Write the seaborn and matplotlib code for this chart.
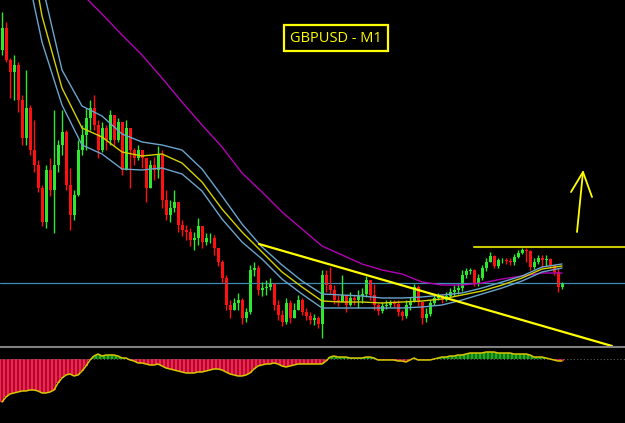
import numpy as np
import matplotlib
matplotlib.use("Agg")
import matplotlib.pyplot as plt
import seaborn as sns

# GBPUSD M1 bars, in points (0.00001) below 1.24600
REF = 1.24600
PT = 0.00001

first_open = 50
close_pts = [28, 60, 72, 65, 100, 138, 108, 150, 165, 188,
             222, 170, 190, 165, 145, 132, 185, 215, 195, 150,
             135, 118, 108, 125, 150, 128, 140, 115, 140, 122,
             170, 128, 150, 158, 150, 158, 188, 165, 170, 155,
             200, 215, 208, 202, 225, 230, 232, 240, 238, 226,
             242, 238, 238, 248, 262, 278, 305, 310, 303, 300,
             318, 312, 270, 268, 290, 288, 287, 283, 305, 315,
             322, 303, 318, 310, 300, 312, 316, 320, 318, 324,
             275, 285, 290, 300, 302, 295, 305, 298, 300, 296,
             294, 280, 295, 305, 311, 306, 305, 303, 304, 312,
             316, 305, 302, 287, 302, 318, 314, 303, 298, 296,
             300, 296, 292, 290, 288, 275, 271, 270, 283, 278,
             268, 262, 256, 266, 260, 260, 261, 262, 257, 253,
             250, 251, 267, 262, 258, 260, 259, 265, 272, 287,
             284]
high_pts = [12, 22, 58, 55, 62, 95, 70, 105, 120, 160,
            185, 165, 158, 110, 140, 110, 130, 168, 190, 140,
            125, 108, 100, 95, 120, 122, 125, 110, 115, 118,
            125, 120, 145, 148, 145, 150, 158, 160, 157, 146,
            150, 190, 200, 190, 205, 220, 225, 228, 232, 218,
            235, 233, 233, 235, 248, 260, 275, 300, 298, 293,
            298, 308, 265, 262, 265, 282, 280, 278, 283, 300,
            310, 298, 300, 303, 295, 298, 308, 312, 314, 316,
            270, 270, 267, 285, 295, 275, 295, 292, 295, 290,
            288, 276, 285, 284, 303, 302, 300, 300, 300, 300,
            310, 300, 297, 284, 285, 305, 308, 300, 295, 293,
            294, 292, 288, 285, 284, 270, 268, 268, 269, 274,
            265, 258, 252, 255, 258, 258, 258, 258, 254, 250,
            248, 248, 250, 258, 255, 255, 255, 258, 265, 268,
            282]
low_pts = [55, 62, 98, 100, 112, 145, 145, 155, 172, 192,
           226, 228, 196, 233, 172, 155, 190, 230, 220, 196,
           155, 150, 130, 130, 158, 152, 150, 145, 145, 142,
           175, 160, 188, 165, 160, 168, 202, 185, 180, 178,
           208, 220, 222, 212, 232, 236, 240, 246, 250, 245,
           248, 245, 243, 255, 266, 283, 310, 318, 310, 310,
           324, 322, 314, 276, 295, 296, 295, 290, 310, 320,
           326, 324, 323, 318, 308, 315, 320, 324, 325, 328,
           338, 292, 294, 304, 306, 300, 312, 306, 305, 308,
           303, 297, 300, 310, 315, 313, 309, 307, 307, 316,
           320, 318, 310, 296, 306, 324, 322, 316, 305, 300,
           303, 301, 297, 296, 294, 291, 278, 274, 286, 286,
           280, 271, 262, 268, 268, 263, 264, 265, 265, 258,
           254, 262, 270, 269, 264, 267, 266, 268, 275, 292,
           289]

# moving averages / envelope, sampled every 5 bars
ma_step = 5
ma_mid = [-200, -97, 16, 88, 128, 137, 152, 156, 154, 163, 182, 209, 232, 252, 272,
          287, 301, 302, 302, 303, 302, 301, 299, 295, 291, 285, 278, 269, 266]
ma_up = [-230, -120, -16, 70, 106, 116, 134, 142, 145, 150, 169, 196, 224, 247, 265,
         281, 294, 295, 296, 298, 298, 297, 295, 293, 288, 282, 276, 267, 264]
ma_lo = [-146, -52, 42, 105, 145, 154, 169, 170, 168, 174, 191, 219, 242, 259, 279,
         294, 308, 308, 308, 308, 308, 307, 305, 300, 294, 288, 281, 272, 268]
ma_slow = [-88, -68, -47, -27, -6, 14, 35, 55, 78, 102, 125, 147, 173, 192, 212,
           229, 246, 255, 264, 270, 274, 282, 285, 285, 283, 279, 276, 273, 273]

# oscillator (sub window)
osc = [-43, -38, -35, -34, -33, -32, -32, -31, -31, -32,
       -34, -34, -33, -31, -24, -19, -16, -15, -17, -16,
       -12, -7, -1, 3, 5, 3, 4, 4, 4, 3,
       1, 1, -1, -2, -4, -4, -5, -6, -6, -5,
       -7, -9, -10, -11, -12, -13, -14, -14, -14, -13,
       -13, -12, -11, -10, -10, -11, -13, -15, -16, -17,
       -17, -16, -14, -10, -7, -6, -5, -5, -4, -5,
       -7, -8, -7, -6, -5, -5, -5, -5, -5, -5,
       -5, -2, 2, 3, 2, 2, 2, 1, 1, 1,
       1, 2, 2, 1, -1, -1, -1, -1, -1, -2,
       -2, -3, -1, 1, -1, -1, -1, -1, 0, 1,
       2, 2, 3, 3, 4, 4, 5, 6, 6, 6,
       6, 7, 7, 7, 6, 6, 6, 6, 5, 5,
       5, 5, 4, 2, 2, 2, 1, 0, -1, -2,
       -2]

# drawn objects (bar index, points)
hline_blue = 283
resist_start, resist_pts = 118, 247
trend_t, trend_p = [64.25, 152.5], [244, 346]
arrow_shaft_t, arrow_shaft_p = [143.75, 145.25], [232, 172]
arrow_head_t, arrow_head_p = [142.25, 145.25, 147.5], [192, 172, 197]


def to_price(pts):
    return REF - np.asarray(pts, dtype=float) * PT


sns.set_theme(style="dark", rc={"axes.facecolor": "black", "figure.facecolor": "black"})

n = len(close_pts)
idx = np.arange(n)
c = to_price(close_pts)
o = to_price([first_open] + close_pts[:-1])
h = np.maximum(to_price(high_pts), np.maximum(o, c))
l = np.minimum(to_price(low_pts), np.minimum(o, c))
up = c >= o
cols = np.where(up, "#2ee82e", "#ff1010")

fig = plt.figure(figsize=(6.25, 4.23), dpi=100)
ax = fig.add_axes([0, 77 / 423, 1, 346 / 423])
axo = fig.add_axes([0, 0, 1, 75 / 423])
for a in (ax, axo):
    a.set_facecolor("black")
    a.set_xlim(-0.5, 155.75)
    a.axis("off")
ax.set_ylim(to_price(346), to_price(0))
axo.set_ylim(-64, 11)

# horizontal levels
ax.axhline(to_price(hline_blue), color="#3a8db5", lw=0.9)
ax.plot([resist_start, 160], to_price([resist_pts] * 2), color="#c8c800", lw=1.5)

# candles
ax.vlines(idx, l, h, color=cols, lw=1.0)
ax.bar(idx, c - o, bottom=o, width=0.75, color=cols, linewidth=0)

# averages
ma_idx = np.arange(0, n, ma_step)
sns.lineplot(x=ma_idx, y=to_price(ma_slow), color="#b400b4", lw=1.0, ax=ax)
sns.lineplot(x=ma_idx, y=to_price(ma_up), color="#6aa5cc", lw=1.0, ax=ax)
sns.lineplot(x=ma_idx, y=to_price(ma_lo), color="#6aa5cc", lw=1.0, ax=ax)
sns.lineplot(x=ma_idx, y=to_price(ma_mid), color="#d2d200", lw=1.0, ax=ax)

# trendline and arrow
ax.plot(trend_t, to_price(trend_p), color="#ffff00", lw=1.6)
ax.plot(arrow_shaft_t, to_price(arrow_shaft_p), color="#ffff00", lw=1.3)
ax.plot(arrow_head_t, to_price(arrow_head_p), color="#ffff00", lw=1.3)

# oscillator
osc = np.asarray(osc)
ocols = np.where(osc >= 0, "#22b022", "#ff2050")
axo.axhline(0, color="#5a5a5a", ls=(0, (1, 2)), lw=0.8)
axo.bar(idx, osc, width=1.0, color=ocols, linewidth=0)
axo.bar(idx, osc, width=0.3, color=np.where(osc >= 0, "#137013", "#a0102e"), linewidth=0)
sns.lineplot(x=idx, y=osc, color="#d8c800", lw=1.1, ax=axo)

# separator between windows
fig.add_artist(plt.Line2D([0, 1], [1 - 346.5 / 423] * 2, transform=fig.transFigure,
                          color="#808080", lw=1.5))

fig.text(336 / 625, 1 - 38 / 423, "GBPUSD - M1", color="#ffff00", fontsize=10.5,
         family="Open Sans", ha="center", va="center",
         bbox=dict(boxstyle="square,pad=0.4", fc="black", ec="#ffff00", lw=1.6))

fig.savefig("out.png", dpi=100, facecolor="black")
